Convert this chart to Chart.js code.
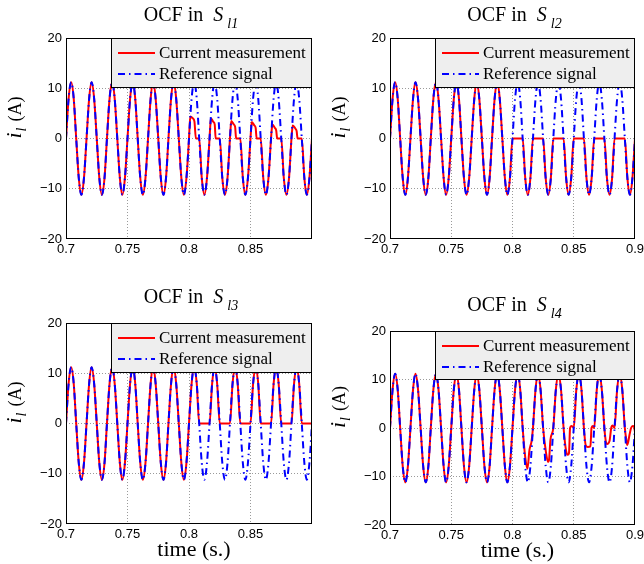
<!DOCTYPE html>
<html>
<head>
<meta charset="utf-8">
<script src="https://cdn.jsdelivr.net/npm/chart.js@4.4.1/dist/chart.umd.min.js"></script>
<style>
    html, body { margin: 0; padding: 0; background: #fff; }
    #fig { position: relative; width: 644px; height: 564px; overflow: hidden; }
    .panel { position: absolute; width: 322px; height: 282px; }
    canvas { display: block; }
</style>
</head>
<body>
<div id="fig">
    <div class="panel" style="left:0;top:0"><canvas id="p1" width="322" height="282"></canvas></div>
    <div class="panel" style="left:322px;top:0"><canvas id="p2" width="322" height="282"></canvas></div>
    <div class="panel" style="left:0;top:282px"><canvas id="p3" width="322" height="282"></canvas></div>
    <div class="panel" style="left:322px;top:282px"><canvas id="p4" width="322" height="282"></canvas></div>
</div>
<script>
// ── Data ─────────────────────────────────────────────────────────────────────

const seriesNames = ['Current measurement', 'Reference signal'];
const xTickValues = [0.7, 0.75, 0.8, 0.85, 0.9];
const xTickLabels = ['0.7', '0.75', '0.8', '0.85', '0.9'];
const yTickValues = [-20, -10, 0, 10, 20];
const yTickLabels = ['\u221220', '\u221210', '0', '10', '20'];

// reference signal, sampled 8 times per 60 Hz cycle
const refT = [
    0.7000, 0.7021, 0.7042, 0.7063, 0.7083, 0.7104, 0.7125, 0.7146,
    0.7167, 0.7188, 0.7208, 0.7229, 0.7250, 0.7271, 0.7292, 0.7313,
    0.7333, 0.7354, 0.7375, 0.7396, 0.7417, 0.7438, 0.7458, 0.7479,
    0.7500, 0.7521, 0.7542, 0.7563, 0.7583, 0.7604, 0.7625, 0.7646,
    0.7667, 0.7688, 0.7708, 0.7729, 0.7750, 0.7771, 0.7792, 0.7813,
    0.7833, 0.7854, 0.7875, 0.7896, 0.7917, 0.7938, 0.7958, 0.7979,
    0.8000, 0.8021, 0.8042, 0.8063, 0.8083, 0.8104, 0.8125, 0.8146,
    0.8167, 0.8188, 0.8208, 0.8229, 0.8250, 0.8271, 0.8292, 0.8313,
    0.8333, 0.8354, 0.8375, 0.8396, 0.8417, 0.8438, 0.8458, 0.8479,
    0.8500, 0.8521, 0.8542, 0.8563, 0.8583, 0.8604, 0.8625, 0.8646,
    0.8667, 0.8688, 0.8708, 0.8729, 0.8750, 0.8771, 0.8792, 0.8813,
    0.8833, 0.8854, 0.8875, 0.8896, 0.8917, 0.8938, 0.8958, 0.8979,
    0.9000
];
const refI = [
    0, 7.9, 11.2, 7.9, 0, -7.9, -11.2, -7.9,
    0, 7.9, 11.2, 7.9, 0, -7.9, -11.2, -7.9,
    0, 7.9, 11.2, 7.9, 0, -7.9, -11.2, -7.9,
    0, 7.9, 11.2, 7.9, 0, -7.9, -11.2, -7.9,
    0, 7.9, 11.2, 7.9, 0, -7.9, -11.2, -7.9,
    0, 7.9, 11.2, 7.9, 0, -7.9, -11.2, -7.9,
    0, 7.9, 11.2, 7.9, 0, -7.9, -11.2, -7.9,
    0, 7.9, 11.2, 7.9, 0, -7.9, -11.2, -7.9,
    0, 7.9, 11.2, 7.9, 0, -7.9, -11.2, -7.9,
    0, 7.9, 11.2, 7.9, 0, -7.9, -11.2, -7.9,
    0, 7.9, 11.2, 7.9, 0, -7.9, -11.2, -7.9,
    0, 7.9, 11.2, 7.9, 0, -7.9, -11.2, -7.9,
    0
];

// samples 0.700–0.800 s: measurement still matches the reference
const healthyCount = 49;

// OCF in S_l1: positive half-waves collapse
const s1FaultT = [
    0.8005, 0.8011, 0.8031, 0.8044, 0.8056, 0.8083, 0.8104, 0.8125, 0.8146, 0.8167,
    0.8172, 0.8178, 0.8198, 0.8209, 0.8217, 0.8250, 0.8271, 0.8292, 0.8313, 0.8333,
    0.8338, 0.8344, 0.8364, 0.8375, 0.8383, 0.8417, 0.8438, 0.8458, 0.8479, 0.8500,
    0.8505, 0.8511, 0.8531, 0.8542, 0.8550, 0.8583, 0.8604, 0.8625, 0.8646, 0.8667,
    0.8672, 0.8678, 0.8698, 0.8709, 0.8717, 0.8750, 0.8771, 0.8792, 0.8813, 0.8833,
    0.8838, 0.8844, 0.8864, 0.8875, 0.8883, 0.8917, 0.8938, 0.8958, 0.8979, 0.9000
];
const s1FaultI = [
    2.5, 4.4, 4.0, 3.4, 0, 0, -7.9, -11.2, -7.9, 0,
    2.2, 4.0, 3.3, 2.8, 0, 0, -7.9, -11.2, -7.9, 0,
    2.0, 3.5, 2.8, 2.3, 0, 0, -7.9, -11.2, -7.9, 0,
    1.9, 3.3, 2.6, 2.1, 0, 0, -7.9, -11.2, -7.9, 0,
    1.6, 2.8, 2.1, 1.6, 0, 0, -7.9, -11.2, -7.9, 0,
    1.5, 2.6, 2.0, 1.5, 0, 0, -7.9, -11.2, -7.9, 0
];

// OCF in S_l2: positive half-waves clamped to zero (on refT from 0.8021 s)
const s2FaultI = [
    0, 0, 0, 0, -7.9, -11.2, -7.9, 0,
    0, 0, 0, 0, -7.9, -11.2, -7.9, 0,
    0, 0, 0, 0, -7.9, -11.2, -7.9, 0,
    0, 0, 0, 0, -7.9, -11.2, -7.9, 0,
    0, 0, 0, 0, -7.9, -11.2, -7.9, 0,
    0, 0, 0, 0, -7.9, -11.2, -7.9, 0
];

// OCF in S_l3: negative half-waves clamped to zero (on refT from 0.8021 s)
const s3FaultI = [
    7.9, 11.2, 7.9, 0, 0, 0, 0, 0,
    7.9, 11.2, 7.9, 0, 0, 0, 0, 0,
    7.9, 11.2, 7.9, 0, 0, 0, 0, 0,
    7.9, 11.2, 7.9, 0, 0, 0, 0, 0,
    7.9, 11.2, 7.9, 0, 0, 0, 0, 0,
    7.9, 11.2, 7.9, 0, 0, 0, 0, 0
];

// OCF in S_l4: negative half-waves shrink
const s4FaultT = [
    0.8021, 0.8042, 0.8063, 0.8083, 0.8104, 0.8122, 0.8138, 0.8146, 0.8155, 0.8167,
    0.8188, 0.8208, 0.8229, 0.8250, 0.8271, 0.8290, 0.8298, 0.8310, 0.8333,
    0.8354, 0.8375, 0.8396, 0.8417, 0.8438, 0.8452, 0.8461, 0.8470, 0.8480, 0.8490, 0.8500,
    0.8521, 0.8542, 0.8563, 0.8583, 0.8598, 0.8615, 0.8636, 0.8645, 0.8655, 0.8667,
    0.8688, 0.8708, 0.8729, 0.8750, 0.8762, 0.8772, 0.8792, 0.8806, 0.8818, 0.8833,
    0.8854, 0.8875, 0.8896, 0.8917, 0.8929, 0.8937, 0.8956, 0.8968, 0.8982, 0.8993, 0.9000
];
const s4FaultI = [
    7.9, 11.2, 7.9, 0, -6.0, -8.4, -4.6, -3.7, -2.8, 0,
    7.9, 11.2, 7.9, 0, -4.6, -7.0, -6.6, -2.4, 0,
    7.9, 11.2, 7.9, 0, -4.8, -5.5, -5.2, 0, 0.4, 0.3, 0,
    7.9, 11.2, 7.9, 0, -3.6, -3.9, -3.8, 0, 0.4, 0,
    7.9, 11.2, 7.9, 0, -2.8, -3.3, -2.7, 0, 0.5, 0,
    7.9, 11.2, 7.9, 0, -2.4, -3.5, -1.3, 0, 0.4, 0.2, -0.8
];

// ── Styling ──────────────────────────────────────────────────────────────────

const measColor = '#ff0000';
const refColor = '#0000ff';
const refDash = [7, 4, 1.5, 4];
const gridColor = '#9a9a9a';
const serif = '"Liberation Serif", "Times New Roman", serif';
const sans = '"Liberation Sans", Arial, sans-serif';

const panels = [
    { id: 'p1', sub: 'l1', area: { l: 66, r: 312, t: 38, b: 239 }, titleY: 21, xTickCount: 4, timeLabel: false,
      t: refT.slice(0, healthyCount).concat(s1FaultT), i: refI.slice(0, healthyCount).concat(s1FaultI) },
    { id: 'p2', sub: 'l2', area: { l: 68, r: 313, t: 38, b: 239 }, titleY: 21, xTickCount: 5, timeLabel: false,
      t: refT, i: refI.slice(0, healthyCount).concat(s2FaultI) },
    { id: 'p3', sub: 'l3', area: { l: 66, r: 312, t: 41, b: 242 }, titleY: 21, xTickCount: 4, timeLabel: true,
      t: refT, i: refI.slice(0, healthyCount).concat(s3FaultI) },
    { id: 'p4', sub: 'l4', area: { l: 68, r: 313, t: 49, b: 243 }, titleY: 29, xTickCount: 5, timeLabel: true,
      t: refT.slice(0, healthyCount).concat(s4FaultT), i: refI.slice(0, healthyCount).concat(s4FaultI) }
];

const X_AXIS_H = 20;

// legend, frame, title and axis labels drawn on top of the chart
function makeDeco(p) {
    return {
        id: 'deco',
        afterDatasetsDraw(chart) {
            const { ctx, chartArea: a, scales } = chart;
            const yTen = Math.round(scales.y.getPixelForValue(10));
            const lx = a.left + 45, ly = a.top;

            ctx.save();
            ctx.fillStyle = '#eeeeee';
            ctx.fillRect(lx, ly, a.right - lx, yTen - ly);
            ctx.strokeStyle = '#000';
            ctx.lineWidth = 1;
            ctx.strokeRect(lx + 0.5, ly + 0.5, a.right - lx - 1, yTen - ly - 1);

            ctx.lineWidth = 2;
            ctx.strokeStyle = measColor;
            ctx.beginPath(); ctx.moveTo(lx + 7, ly + 15); ctx.lineTo(lx + 44, ly + 15); ctx.stroke();
            ctx.strokeStyle = refColor;
            ctx.setLineDash(refDash);
            ctx.beginPath(); ctx.moveTo(lx + 7, ly + 36); ctx.lineTo(lx + 44, ly + 36); ctx.stroke();
            ctx.setLineDash([]);

            ctx.fillStyle = '#000';
            ctx.font = '17px ' + serif;
            ctx.textAlign = 'left';
            ctx.textBaseline = 'alphabetic';
            ctx.fillText(seriesNames[0], lx + 48, ly + 19.5);
            ctx.fillText(seriesNames[1], lx + 48, ly + 41);

            // axes box
            ctx.lineWidth = 1;
            ctx.strokeStyle = '#000';
            ctx.strokeRect(a.left + 0.5, a.top + 0.5, a.right - a.left - 1, a.bottom - a.top - 1);
            ctx.restore();
        },
        afterDraw(chart) {
            const { ctx, chartArea: a } = chart;
            const cx = (a.left + a.right) / 2;
            ctx.save();
            ctx.fillStyle = '#000';
            ctx.textAlign = 'left';
            ctx.textBaseline = 'alphabetic';

            // title: OCF in  S_lk
            ctx.font = '20px ' + serif;
            const w1 = ctx.measureText('OCF in').width;
            ctx.font = 'italic 20px ' + serif;
            const w2 = ctx.measureText('S').width;
            ctx.font = 'italic 14px ' + serif;
            const w3 = ctx.measureText(p.sub).width;
            const gap = 10;
            let x = cx - (w1 + gap + w2 + 4 + w3) / 2 + 2;
            ctx.font = '20px ' + serif;
            ctx.fillText('OCF in', x, p.titleY);
            x += w1 + gap;
            ctx.font = 'italic 20px ' + serif;
            ctx.fillText('S', x, p.titleY);
            x += w2 + 4;
            ctx.font = 'italic 14px ' + serif;
            ctx.fillText(p.sub, x, p.titleY + 6.5);

            // y label: i_l (A)
            ctx.save();
            ctx.translate(a.left - 45, (a.top + a.bottom) / 2);
            ctx.rotate(-Math.PI / 2);
            ctx.font = 'italic 22px ' + serif;
            ctx.fillText('i', 0, 0);
            let w = ctx.measureText('i').width + 1;
            ctx.font = 'italic 14px ' + serif;
            ctx.fillText('l', w, 5);
            w += ctx.measureText('l').width + 6;
            ctx.font = '18px ' + serif;
            ctx.fillText('(A)', w, 0);
            ctx.restore();

            if (p.timeLabel) {
                ctx.font = '22px ' + serif;
                ctx.textAlign = 'center';
                ctx.fillText('time (s.)', cx + 5, a.bottom + 32);
            }
            ctx.restore();
        }
    };
}

function edgeAware(edges) {
    return c => (c.tick && edges.includes(c.tick.value)) ? 'rgba(0,0,0,0)' : gridColor;
}

function buildPanel(p) {
    const canvas = document.getElementById(p.id);
    const W = canvas.width, H = canvas.height;
    const meas = p.t.map((t, k) => ({ x: t, y: p.i[k] }));
    const ref = refT.map((t, k) => ({ x: t, y: refI[k] }));

    return new Chart(canvas.getContext('2d'), {
        type: 'line',
        data: {
            datasets: [
                { label: seriesNames[0], data: meas, borderColor: measColor, borderWidth: 2,
                  pointRadius: 0, cubicInterpolationMode: 'monotone', order: 1 },
                { label: seriesNames[1], data: ref, borderColor: refColor, borderWidth: 2,
                  borderDash: refDash, pointRadius: 0, cubicInterpolationMode: 'monotone', order: 0 }
            ]
        },
        options: {
            responsive: false,
            animation: false,
            events: [],
            layout: { padding: { left: 0, top: p.area.t, right: W - p.area.r, bottom: H - p.area.b - X_AXIS_H } },
            plugins: { legend: { display: false }, tooltip: { enabled: false }, title: { display: false } },
            scales: {
                x: {
                    type: 'linear', min: 0.7, max: 0.9,
                    afterBuildTicks: s => { s.ticks = xTickValues.slice(0, p.xTickCount).map(v => ({ value: v })); },
                    afterFit: s => { s.height = X_AXIS_H; s.paddingLeft = 0; s.paddingRight = 0; },
                    grid: { color: edgeAware([0.7, 0.9]), lineWidth: 1, drawTicks: false, borderDash: [1, 2] },
                    border: { display: false, dash: [1, 2] },
                    ticks: { color: '#000', font: { family: sans, size: 13 }, padding: 3, maxRotation: 0,
                             autoSkip: false, callback: (v, k) => xTickLabels[k] }
                },
                y: {
                    type: 'linear', min: -20, max: 20,
                    afterBuildTicks: s => { s.ticks = yTickValues.map(v => ({ value: v })); },
                    afterFit: s => { s.width = p.area.l; s.paddingTop = 0; s.paddingBottom = 0; },
                    grid: { color: edgeAware([-20, 20]), lineWidth: 1, drawTicks: false, borderDash: [1, 2] },
                    border: { display: false, dash: [1, 2] },
                    ticks: { color: '#000', font: { family: sans, size: 13 }, padding: 4,
                             autoSkip: false, callback: (v, k) => yTickLabels[k] }
                }
            }
        },
        plugins: [makeDeco(p)]
    });
}

panels.forEach(buildPanel);
</script>
</body>
</html>
